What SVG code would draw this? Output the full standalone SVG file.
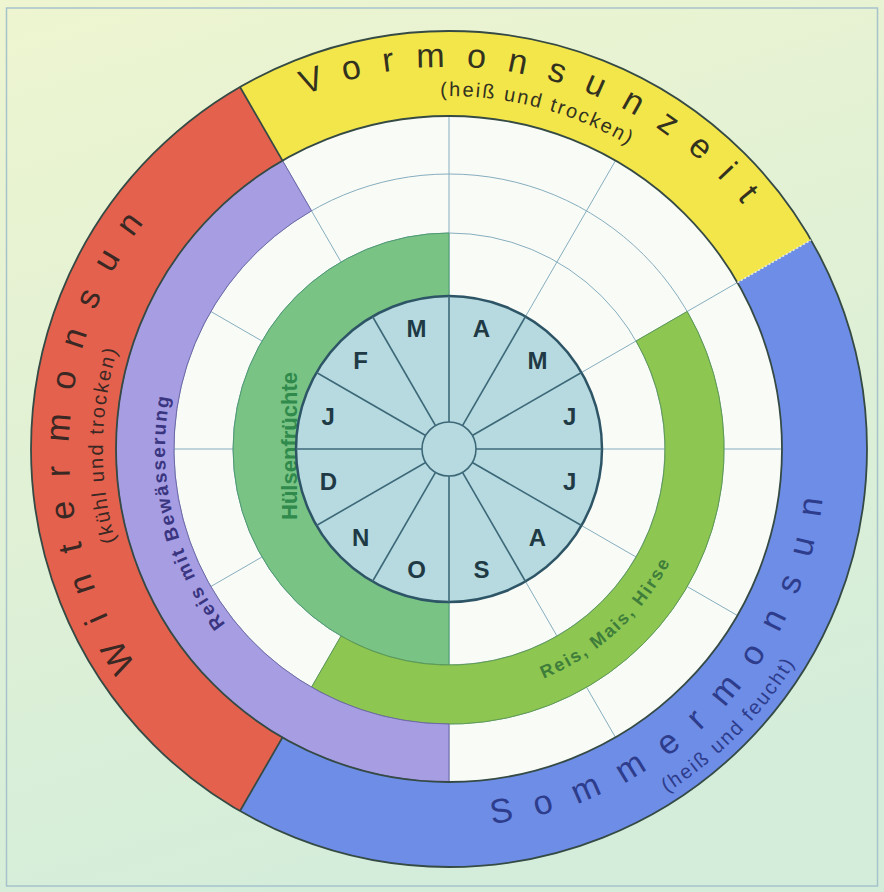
<svg xmlns="http://www.w3.org/2000/svg" width="884" height="892" viewBox="0 0 884 892">
<style>
.title{font-family:"Liberation Sans",Arial,sans-serif;font-size:34px;}
.sub{font-family:"Liberation Sans",Arial,sans-serif;font-size:20px;letter-spacing:2px;}
.crop{font-family:"Liberation Sans",Arial,sans-serif;font-weight:bold;}
.month{font-family:"Liberation Sans",Arial,sans-serif;font-size:24px;font-weight:bold;fill:#1f3a45;text-anchor:middle;}
.grid{stroke:#86aebe;stroke-width:1;fill:none;}
.mline{stroke:#3d6878;stroke-width:1.6;fill:none;}
.dark{stroke:#354a44;stroke-width:1.8;fill:none;}
</style>
<defs>
<linearGradient id="bg" x1="0" y1="0" x2="0.3" y2="1">
<stop offset="0" stop-color="#eef5d0"/>
<stop offset="1" stop-color="#d4edda"/>
</linearGradient>
<path id="pVor" d="M104.5,283.9 A382,382 0 0 1 829.2,486.3"/>
<path id="pVorSub" d="M128.3,301.5 A353,353 0 0 1 800.8,477.9"/>
<path id="pWin" d="M365.5,819.7 A380,380 0 0 1 400.7,72.1"/>
<path id="pWinSub" d="M384.7,789 A346,346 0 0 1 393.1,107.5"/>
<path id="pSom" d="M239.3,762.3 A377,377 0 0 0 753.2,226.3"/>
<path id="pSomSub" d="M217.9,784 A407,407 0 0 0 780.7,213.2"/>
<path id="pRMH" d="M298.8,646.9 A248.5,248.5 0 0 0 657.9,314.4"/>
<path id="pRB" d="M466.8,732.4 A284,284 0 0 1 335.3,188.7"/>
</defs>

<g id="background">
<rect x="0" y="0" width="884" height="892" fill="url(#bg)"/>
<rect x="6.5" y="8" width="871" height="878" fill="none" stroke="#a6c2cb" stroke-width="1.5"/>
</g>

<g id="season-ring">
<g id="wintermonsun">
<path d="M240,811 A418,418 0 0 1 240,87 L282.5,160.6 A333,333 0 0 0 282.5,737.4 Z" fill="#e4614d"/>
<text class="title" fill="#3a2824" font-size="36" letter-spacing="23"><textPath href="#pWin" startOffset="50%" text-anchor="middle">Wintermonsun</textPath></text>
<text class="sub" fill="#3a2824"><textPath href="#pWinSub" startOffset="50%" text-anchor="middle">(kühl und trocken)</textPath></text>
</g>
<g id="vormonsunzeit">
<path d="M240,87 A418,418 0 0 1 811,240 L737.4,282.5 A333,333 0 0 0 282.5,160.6 Z" fill="#f3e64b"/>
<text class="title" fill="#33321f" font-size="33" letter-spacing="21.5"><textPath href="#pVor" startOffset="50%" text-anchor="middle">Vormonsunzeit</textPath></text>
<text class="sub" fill="#33321f"><textPath href="#pVorSub" startOffset="50%" text-anchor="middle">(heiß und trocken)</textPath></text>
</g>
<g id="sommermonsun">
<path d="M811,240 A418,418 0 0 1 240,811 L282.5,737.4 A333,333 0 0 0 737.4,282.5 Z" fill="#6d8de6"/>
<text class="title" fill="#2e3c8c" font-size="35" letter-spacing="22.7"><textPath href="#pSom" startOffset="50%" text-anchor="middle">Sommermonsun</textPath></text>
<text class="sub" fill="#2e3c8c"><textPath href="#pSomSub" startOffset="50%" text-anchor="middle">(heiß und feucht)</textPath></text>
</g>
</g>

<g id="calendar-grid">
<circle cx="449" cy="449" r="333" fill="#f9fbf7"/>
<circle class="grid" cx="449" cy="449" r="216"/>
<circle class="grid" cx="449" cy="449" r="275"/>
<line class="grid" x1="449" y1="116" x2="449" y2="782"/>
<line class="grid" x1="615.5" y1="160.6" x2="282.5" y2="737.4"/>
<line class="grid" x1="737.4" y1="282.5" x2="160.6" y2="615.5"/>
<line class="grid" x1="782" y1="449" x2="116" y2="449"/>
<line class="grid" x1="737.4" y1="615.5" x2="160.6" y2="282.5"/>
<line class="grid" x1="615.5" y1="737.4" x2="282.5" y2="160.6"/>
</g>

<g id="huelsenfruechte">
<path d="M449,665 A216,216 0 0 1 449,233 L449,296 A153,153 0 0 0 449,602 Z" fill="#79c384" stroke="#4f9a73" stroke-width="1"/>
<text class="crop" font-size="22" fill="#2f8a4c" transform="translate(297,446) rotate(-90)" text-anchor="middle">Hülsenfrüchte</text>
</g>

<g id="reis-mais-hirse">
<path d="M687.2,311.5 A275,275 0 0 1 311.5,687.2 L341,636.1 A216,216 0 0 0 636.1,341 Z" fill="#8dc651" stroke="#5f9a52" stroke-width="1"/>
<text class="crop" font-size="18" fill="#3f7d3b" letter-spacing="2"><textPath href="#pRMH" startOffset="50%" text-anchor="middle">Reis, Mais, Hirse</textPath></text>
</g>

<g id="reis-bewaesserung">
<path d="M449,782 A333,333 0 0 1 282.5,160.6 L311.5,210.8 A275,275 0 0 0 449,724 Z" fill="#a69de2" stroke="#6f67a8" stroke-width="1"/>
<text class="crop" font-size="19" fill="#3a3580" letter-spacing="2"><textPath href="#pRB" startOffset="50%" text-anchor="middle">Reis mit Bewässerung</textPath></text>
</g>

<g id="ring-outlines">
<circle class="dark" cx="449" cy="449" r="418"/>
<circle class="dark" cx="449" cy="449" r="333"/>
<line class="dark" x1="282.5" y1="160.6" x2="240" y2="87"/>
<line class="dark" x1="282.5" y1="737.4" x2="240" y2="811"/>
<line x1="737.4" y1="282.5" x2="811" y2="240" stroke="#e6eedc" stroke-width="1.5" stroke-dasharray="2 2"/>
</g>

<g id="months">
<circle cx="449" cy="449" r="153" fill="#b6dae0" stroke="#2e5566" stroke-width="2.5"/>
<line class="mline" x1="449" y1="296" x2="449" y2="602"/>
<line class="mline" x1="525.5" y1="316.5" x2="372.5" y2="581.5"/>
<line class="mline" x1="581.5" y1="372.5" x2="316.5" y2="525.5"/>
<line class="mline" x1="602" y1="449" x2="296" y2="449"/>
<line class="mline" x1="581.5" y1="525.5" x2="316.5" y2="372.5"/>
<line class="mline" x1="525.5" y1="581.5" x2="372.5" y2="316.5"/>
<circle cx="449" cy="449" r="27" fill="#b6dae0" stroke="#3d6878" stroke-width="1.6"/>
<text class="month" x="481.4" y="336.8">A</text>
<text class="month" x="537.4" y="369.1">M</text>
<text class="month" x="569.7" y="425.1">J</text>
<text class="month" x="569.7" y="489.9">J</text>
<text class="month" x="537.4" y="545.9">A</text>
<text class="month" x="481.4" y="578.2">S</text>
<text class="month" x="416.6" y="578.2">O</text>
<text class="month" x="360.6" y="545.9">N</text>
<text class="month" x="328.3" y="489.9">D</text>
<text class="month" x="328.3" y="425.1">J</text>
<text class="month" x="360.6" y="369.1">F</text>
<text class="month" x="416.6" y="336.8">M</text>
</g>
</svg>
